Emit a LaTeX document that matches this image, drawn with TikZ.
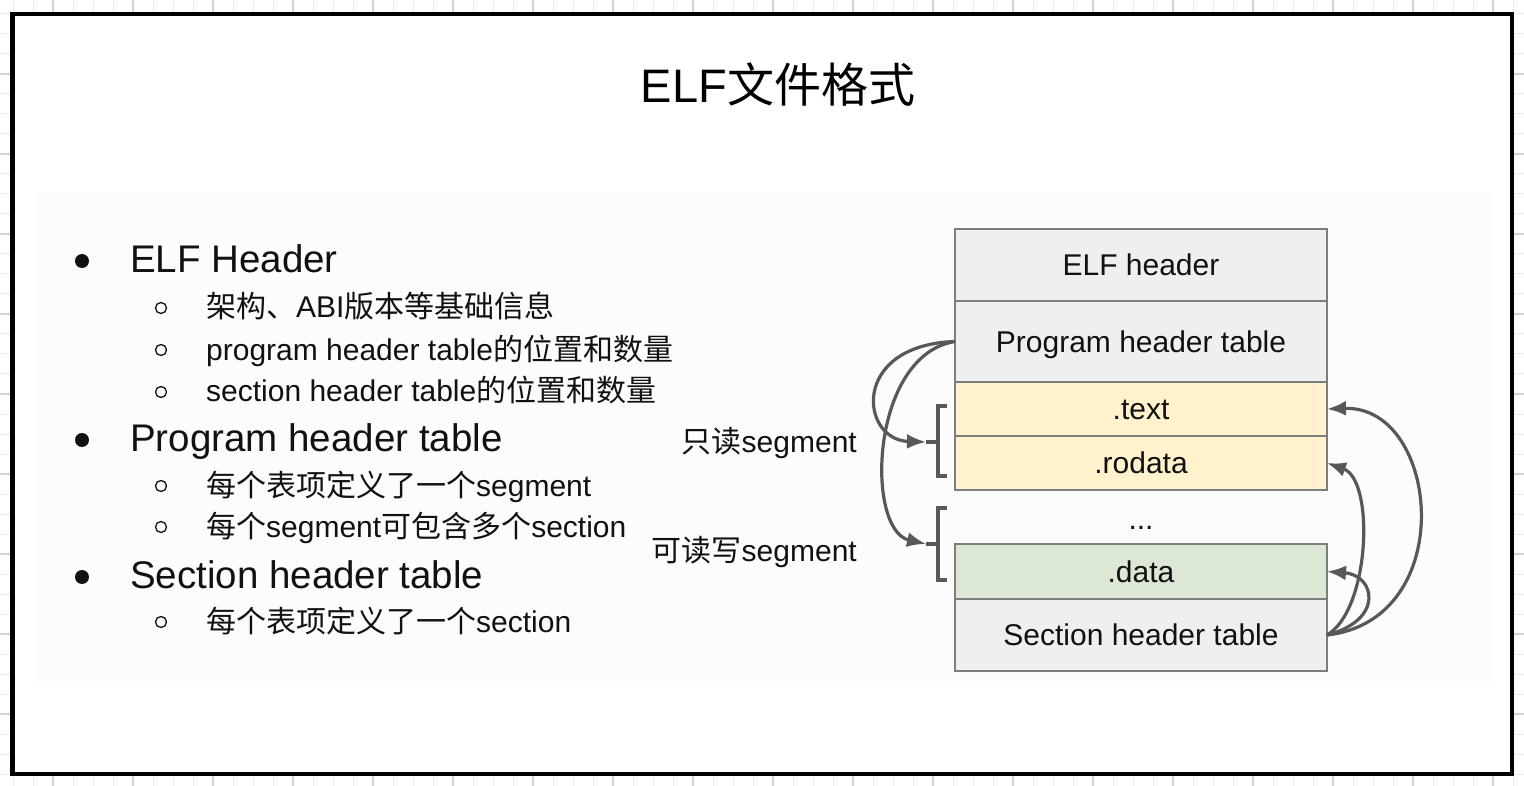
\documentclass[tikz,border=0pt]{standalone}
\usepackage{fontspec}
\setmainfont{Liberation Sans}
\newfontfamily\cjk{Noto Sans CJK SC}
\usetikzlibrary{arrows.meta}
\definecolor{gridlight}{RGB}{236,236,236}
\definecolor{griddark}{RGB}{212,212,212}
\definecolor{panel}{RGB}{252,252,252}
\definecolor{rowgrey}{RGB}{239,239,241}
\definecolor{rowyellow}{RGB}{255,242,204}
\definecolor{rowgreen}{RGB}{220,232,213}
\definecolor{rowborder}{RGB}{125,125,125}
\definecolor{conncol}{RGB}{88,88,88}
\definecolor{txt}{RGB}{17,17,17}
\begin{document}
\begin{tikzpicture}[x=1pt,y=-1pt,
  lvlone/.style={anchor=base west, inner sep=0pt, text=txt, font=\fontsize{38.5}{40}\selectfont},
  lvltwo/.style={anchor=base west, inner sep=0pt, text=txt, font=\fontsize{30}{32}\selectfont},
  lbl/.style={anchor=base east, inner sep=0pt, text=txt, font=\fontsize{30}{32}\selectfont},
  rowbox/.style={draw=rowborder, line width=1.8pt, minimum width=372pt, inner sep=0pt, outer sep=0pt,
     anchor=north west, text=txt, font=\fontsize{30}{32}\selectfont, text height=21.5pt, text depth=0pt},
  brk/.style={draw=conncol, line width=3.2pt},
  conn/.style={draw=conncol, line width=3.2pt, -{Latex[length=19pt,width=15pt]}},
  bigdot/.style={fill=txt},
  smalldot/.style={draw=txt, line width=1.3pt}]
\useasboundingbox (0,0) rectangle (1524,786);
% grid background
\foreach \k in {0,...,75} \draw[gridlight, line width=1pt] (13+20*\k,0) -- ++(0,786);
\foreach \k in {0,...,38} \draw[gridlight, line width=1pt] (0,14+20*\k) -- ++(1524,0);
\foreach \k in {0,...,18} \draw[griddark, line width=1.3pt] (53+80*\k,0) -- ++(0,786);
\foreach \k in {0,...,8} \draw[griddark, line width=1.3pt] (0,74+80*\k) -- ++(1524,0);
% frame and panel
\fill[white] (12.5,14) rectangle (1512,774);
\fill[panel] (37,193) rectangle (1493,682);
\draw[black, line width=4.5pt] (12.5,14) rectangle (1512,774);
% title
\node[anchor=base, inner sep=0pt, font=\fontsize{47}{50}\selectfont] (title) at (778,103) {ELF{\cjk 文件格式}};
% list
\fill[bigdot] (82,261) circle (7);
\node[lvlone] (l1) at (130,273) {ELF Header};
\draw[smalldot] (161,308) circle (5.5);
\node[lvltwo] (l11) at (206,318) {{\cjk 架构、}ABI{\cjk 版本等基础信息}};
\draw[smalldot] (161,350) circle (5.5);
\node[lvltwo] (l12) at (206,360) {program header table{\cjk 的位置和数量}};
\draw[smalldot] (161,392) circle (5.5);
\node[lvltwo] (l13) at (206,401) {section header table{\cjk 的位置和数量}};
\fill[bigdot] (82,440) circle (7);
\node[lvlone] (l2) at (130,451) {Program header table};
\draw[smalldot] (161,486) circle (5.5);
\node[lvltwo] (l21) at (206,496) {{\cjk 每个表项定义了一个}segment};
\draw[smalldot] (161,527) circle (5.5);
\node[lvltwo] (l22) at (206,537) {{\cjk 每个}segment{\cjk 可包含多个}section};
\fill[bigdot] (82,577) circle (7);
\node[lvlone] (l3) at (130,588) {Section header table};
\draw[smalldot] (161,622) circle (5.5);
\node[lvltwo] (l31) at (206,632) {{\cjk 每个表项定义了一个}section};
% table
\node[rowbox, fill=rowgrey, minimum height=72pt] (elfh) at (955,229) {ELF header};
\node[rowbox, fill=rowgrey, minimum height=81pt] (pht) at (955,301) {Program header table};
\node[rowbox, fill=rowyellow, minimum height=54pt] (text) at (955,382) {.text};
\node[rowbox, fill=rowyellow, minimum height=54pt] (rodata) at (955,436) {.rodata};
\node[anchor=base, inner sep=0pt, text=txt, font=\fontsize{30}{32}\selectfont] (dots) at (1141,529) {...};
\node[rowbox, fill=rowgreen, minimum height=55pt] (data) at (955,544) {.data};
\node[rowbox, fill=rowgrey, minimum height=72pt] (sht) at (955,599) {Section header table};
% labels
\node[lbl] (ro) at (857,452) {{\cjk 只读}segment};
\node[lbl] (rw) at (857,561) {{\cjk 可读写}segment};
% brackets
\coordinate (b1t) at (947,406); \coordinate (b1tl) at (938,406);
\coordinate (b1b) at (947,476); \coordinate (b1bl) at (938,476);
\coordinate (b1m) at (938,442); \coordinate (b1tip) at (926,442);
\coordinate (b2t) at (947,508); \coordinate (b2tl) at (938,508);
\coordinate (b2b) at (947,580); \coordinate (b2bl) at (938,580);
\coordinate (b2m) at (938,544); \coordinate (b2tip) at (926,544);
\draw[brk] (b1t) -- (b1tl) -- (b1bl) -- (b1b);
\draw[brk] (b1m) -- (b1tip);
\draw[brk] (b2t) -- (b2tl) -- (b2bl) -- (b2b);
\draw[brk] (b2m) -- (b2tip);
% connectors
\draw[conn] (pht.west) .. controls (850,345) and (860,440) .. (b1tip);
\draw[conn] (pht.west) .. controls (870,355) and (865,530) .. (b2tip);
\draw[conn] (sht.east) .. controls (1460,620) and (1440,405) .. (text.east);
\draw[conn] (sht.east) .. controls (1370,610) and (1375,480) .. (rodata.east);
\draw[conn] (sht.east) .. controls (1385,620) and (1375,575) .. (data.east);
\end{tikzpicture}
\end{document}
